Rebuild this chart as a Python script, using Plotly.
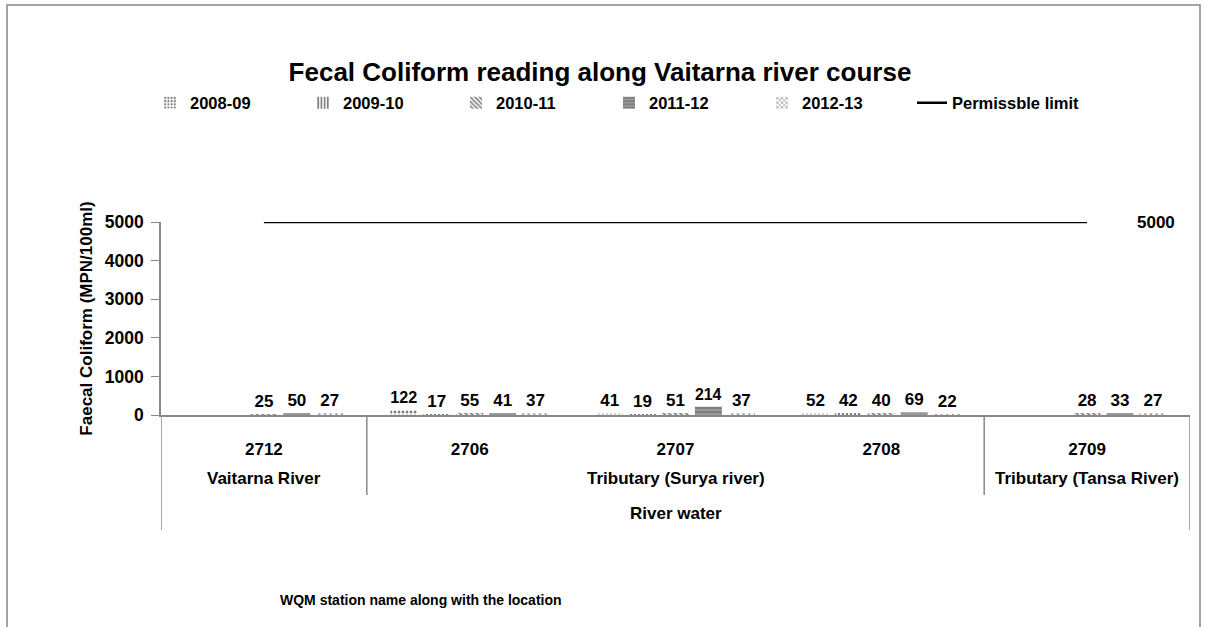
import plotly.graph_objects as go

stations = ["2712", "2706", "2707", "2708", "2709"]
locations = ["Vaitarna River", "Tributary (Surya river)", "Tributary (Tansa River)"]
location_centers = ["2712", "2707", "2709"]
group_label = "River water"

series_names = ["2008-09", "2009-10", "2010-11", "2011-12", "2012-13"]
v_2008_09 = [None, 122, 41, 52, None]
v_2009_10 = [None, 17, 19, 42, None]
v_2010_11 = [25, 55, 51, 40, 28]
v_2011_12 = [50, 41, 214, 69, 33]
v_2012_13 = [27, 37, 37, 22, 27]
limit_name = "Permissble limit"
limit_values = [5000, 5000, 5000, 5000, 5000]

FONT = "Liberation Sans, Arial, sans-serif"
patterns = [".", "|", "\\", "-", "x"]
solidity = [0.4, 0.55, 0.5, 0.9, 0.35]

W, H = 1206, 627
PL, PR, PT, PB = 161, 1190, 222, 415   # plot area in pixels
ph = float(PB - PT)
pw = float(PR - PL)

def py(px):
    return -(px - PB) / ph

def pxp(px):
    return (px - PL) / pw

idx = {s: i for i, s in enumerate(stations)}

fig = go.Figure()
for name, vals, pat, sol in zip(series_names,
                                 [v_2008_09, v_2009_10, v_2010_11, v_2011_12, v_2012_13],
                                 patterns, solidity):
    fig.add_trace(go.Bar(
        name=name, x=stations, y=vals,
        text=[("" if v is None else str(v)) for v in vals],
        textposition="outside",
        textfont=dict(family=FONT, size=17, color="black", weight="bold"),
        marker=dict(color="white", line=dict(width=0),
                    pattern=dict(shape=pat, fgcolor="black", bgcolor="white",
                                 size=4, solidity=sol)),
        cliponaxis=False, legend="legend",
    ))

fig.add_trace(go.Scatter(
    name=limit_name, x=stations, y=limit_values, mode="lines",
    line=dict(color="black", width=2.5), legend="legend2",
))

fig.add_annotation(x=idx[stations[-1]], y=limit_values[-1], xref="x", yref="y",
                   text="5000", showarrow=False, xshift=69,
                   font=dict(family=FONT, size=17, color="black", weight="bold"))

# level-2 labels
for loc, c in zip(locations, location_centers):
    fig.add_annotation(x=idx[c], y=0, xref="x", yref="paper", yshift=-63,
                       text=loc, showarrow=False, yanchor="middle", xanchor="center",
                       font=dict(family=FONT, size=17, color="black", weight="bold"))
# level-3 label
fig.add_annotation(x=idx[stations[2]], y=0, xref="x", yref="paper", yshift=-98,
                   text=group_label, showarrow=False, yanchor="middle", xanchor="center",
                   font=dict(family=FONT, size=17, color="black", weight="bold"))

# x-axis title
fig.add_annotation(x=pxp(421), y=0, xref="paper", yref="paper", yshift=-185,
                   text="WQM station name along with the location", showarrow=False,
                   yanchor="middle", xanchor="center",
                   font=dict(family=FONT, size=14, color="black", weight="bold"))

# dividers of the multi-level category axis
line_style = dict(color="#888888", width=1.5)
for xv, yb in [(-0.5, 530), (0.5, 495), (3.5, 495), (4.5, 530)]:
    fig.add_shape(type="line", xref="x", yref="paper", x0=xv, x1=xv,
                  y0=0, y1=py(yb), line=line_style)

# outer chart border
fig.add_shape(type="rect", xref="paper", yref="paper",
              x0=pxp(7), x1=pxp(1200), y0=py(660), y1=py(5),
              line=dict(color="#888888", width=1.5))

legend_font = dict(family=FONT, size=16.5, color="black", weight="bold")
fig.update_layout(
    width=W, height=H,
    margin=dict(l=PL, r=W - PR, t=PT, b=H - PB, autoexpand=False),
    paper_bgcolor="white", plot_bgcolor="white",
    barmode="group", bargap=0.2, bargroupgap=0.18,
    title=dict(text="Fecal Coliform reading along Vaitarna river course",
               x=600 / W, xref="container", xanchor="center",
               y=1 - 72 / H, yref="container", yanchor="middle",
               font=dict(family=FONT, size=26, color="black", weight="bold")),
    legend=dict(orientation="h", xref="container", x=150 / W, xanchor="left",
                yref="container", y=1 - 103 / H, yanchor="middle",
                entrywidth=108, entrywidthmode="pixels",
                font=legend_font, bgcolor="rgba(0,0,0,0)", traceorder="normal"),
    legend2=dict(orientation="h", xref="container", x=912 / W, xanchor="left",
                 yref="container", y=1 - 103 / H, yanchor="middle",
                 font=legend_font, bgcolor="rgba(0,0,0,0)"),
    showlegend=True,
    font=dict(family=FONT, color="black"),
)

fig.update_xaxes(type="category", categoryorder="array", categoryarray=stations,
                 range=[-0.5, len(stations) - 0.5],
                 showline=True, linecolor="#888888", linewidth=1.5,
                 ticks="", showgrid=False, zeroline=False, ticklabelstandoff=18,
                 automargin=False,
                 tickfont=dict(family=FONT, size=17, color="black", weight="bold"))
fig.update_yaxes(range=[0, 5000], dtick=1000, showline=True, linecolor="#888888",
                 linewidth=1.5, ticks="outside", ticklen=8, tickcolor="#888888",
                 showgrid=False, zeroline=False, automargin=False, ticklabelstandoff=4,
                 tickfont=dict(family=FONT, size=17.5, color="black", weight="bold"),
                 title=dict(text="Faecal Coliform (MPN/100ml)", standoff=8,
                            font=dict(family=FONT, size=17, color="black", weight="bold")))

fig.write_html("out.html", config={"displayModeBar": False},
               post_script="document.body.style.margin='0px';")
